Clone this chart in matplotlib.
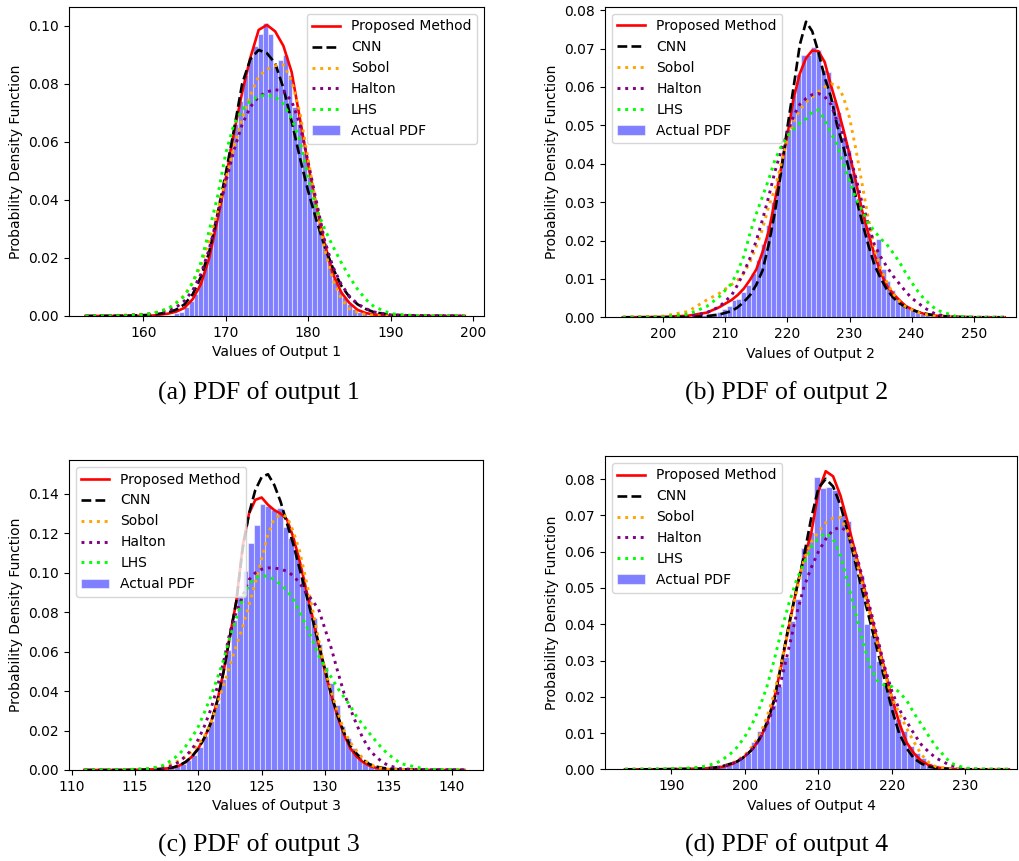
import matplotlib.pyplot as plt
import numpy as np

plt.rcParams['font.size'] = 10

# ---- output 1 ----
x1 = [153, 158, 161, 163, 164, 165, 166, 167, 168, 169, 170, 171, 172, 173, 174,
      175, 176, 177, 178, 179, 180, 181, 182, 183, 184, 185, 186, 187, 188, 190, 193, 199]
prop1 = [0, 0, 0.0001, 0.0008, 0.0015, 0.0028, 0.0058, 0.011, 0.020, 0.033, 0.047, 0.063, 0.077, 0.089, 0.0985,
         0.1002, 0.098, 0.093, 0.084, 0.068, 0.052, 0.038, 0.025, 0.0145, 0.0082, 0.0045, 0.0021, 0.001, 0.0005, 0.0001, 0, 0]
cnn1 = [0, 0.0001, 0.0004, 0.0012, 0.0022, 0.004, 0.0075, 0.0135, 0.022, 0.035, 0.049, 0.064, 0.080, 0.0885, 0.0916,
        0.0905, 0.087, 0.0785, 0.067, 0.0545, 0.043, 0.033, 0.024, 0.0165, 0.0105, 0.0066, 0.004, 0.0024, 0.0013, 0.0004, 0.0001, 0]
sobol1 = [0, 0.0003, 0.0008, 0.0025, 0.0045, 0.0072, 0.0115, 0.0175, 0.026, 0.036, 0.047, 0.058, 0.068, 0.076, 0.0825,
          0.085, 0.0862, 0.0865, 0.081, 0.070, 0.054, 0.038, 0.023, 0.0125, 0.006, 0.0025, 0.0012, 0.0005, 0.0002, 0, 0, 0]
halton1 = [0, 0.0002, 0.0007, 0.0018, 0.003, 0.0052, 0.0088, 0.0145, 0.023, 0.034, 0.046, 0.057, 0.066, 0.072, 0.0755,
           0.0772, 0.0779, 0.0775, 0.074, 0.066, 0.053, 0.0395, 0.026, 0.017, 0.011, 0.0068, 0.0042, 0.0025, 0.0014, 0.0004, 0.0001, 0]
lhs1 = [0, 0.0001, 0.0007, 0.0025, 0.0045, 0.0068, 0.0115, 0.0185, 0.0295, 0.041, 0.056, 0.066, 0.071, 0.074, 0.0757,
        0.0761, 0.0755, 0.073, 0.068, 0.0605, 0.048, 0.037, 0.030, 0.024, 0.0185, 0.0135, 0.0092, 0.0057, 0.0032, 0.0008, 0.0001, 0]
bins1 = (163.7, 0.6)
hist1 = [0.001, 0.0015, 0.003, 0.005, 0.0075, 0.012, 0.019, 0.025, 0.032, 0.040,
         0.048, 0.058, 0.066, 0.074, 0.083, 0.089, 0.093, 0.097, 0.101, 0.097,
         0.086, 0.088, 0.090, 0.083, 0.072, 0.066, 0.056, 0.048, 0.040, 0.032,
         0.025, 0.019, 0.013, 0.009, 0.0065, 0.004, 0.0025, 0.0015, 0.001, 0.0005]

# ---- output 2 ----
x2 = [193.5, 200, 204, 207, 209] + list(range(211, 243)) + [244, 247, 250, 255]
prop2 = [0, 0.0001, 0.0004, 0.0012, 0.0026,
         0.0045, 0.0058, 0.0075, 0.0098, 0.0125, 0.017, 0.0225, 0.0305, 0.039, 0.0475, 0.057, 0.0635, 0.0675, 0.0695, 0.0693, 0.0665,
         0.0605, 0.055, 0.049, 0.0425, 0.0355, 0.028, 0.022, 0.0165, 0.0118, 0.0082, 0.0062, 0.0045, 0.003, 0.0021, 0.0014, 0.0009,
         0.0004, 0.0001, 0, 0]
cnn2 = [0, 0, 0.0001, 0.0003, 0.0007,
        0.0016, 0.0026, 0.004, 0.0058, 0.0085, 0.0122, 0.019, 0.0275, 0.038, 0.0495, 0.060, 0.071, 0.077, 0.0745, 0.069, 0.0625,
        0.0575, 0.050, 0.0445, 0.038, 0.0315, 0.025, 0.019, 0.0137, 0.0102, 0.0073, 0.0052, 0.0037, 0.0027, 0.002, 0.0014, 0.001,
        0.0004, 0.0001, 0, 0]
sobol2 = [0, 0.0003, 0.0015, 0.0045, 0.0062,
          0.0085, 0.0097, 0.0115, 0.0145, 0.0185, 0.023, 0.029, 0.0335, 0.040, 0.0465, 0.051, 0.054, 0.056, 0.0573, 0.0588, 0.060,
          0.0608, 0.0605, 0.0575, 0.052, 0.044, 0.035, 0.026, 0.018, 0.0128, 0.0092, 0.0062, 0.0042, 0.0028, 0.002, 0.0013, 0.0008,
          0.0003, 0.0001, 0, 0]
halton2 = [0, 0, 0.0002, 0.0012, 0.0027,
           0.0057, 0.0085, 0.0118, 0.0155, 0.020, 0.0255, 0.0315, 0.038, 0.0435, 0.048, 0.0525, 0.0555, 0.057, 0.058, 0.0583, 0.0575,
           0.0555, 0.051, 0.0475, 0.0425, 0.0365, 0.030, 0.0245, 0.019, 0.0158, 0.0132, 0.0108, 0.0088, 0.0068, 0.005, 0.0038, 0.0025,
           0.0007, 0.0001, 0, 0]
lhs2 = [0, 0.0001, 0.0008, 0.0028, 0.0053,
        0.0088, 0.012, 0.016, 0.022, 0.027, 0.0315, 0.036, 0.041, 0.0445, 0.0473, 0.049, 0.0505, 0.0517, 0.0535, 0.054, 0.0515,
        0.048, 0.045, 0.040, 0.0355, 0.031, 0.028, 0.0245, 0.0225, 0.0205, 0.019, 0.0168, 0.0145, 0.0117, 0.0091, 0.0068, 0.0048,
        0.0019, 0.0003, 0, 0]
bins2 = (206.2, 0.8)
hist2 = [0.0005, 0.0008, 0.001, 0.0015, 0.0022, 0.003, 0.0045, 0.0048, 0.0065, 0.0085,
         0.0115, 0.015, 0.019, 0.024, 0.030, 0.036, 0.043, 0.049, 0.058, 0.0635,
         0.0683, 0.0683, 0.0703, 0.0696, 0.0644, 0.064, 0.0565, 0.0535, 0.047, 0.0435,
         0.0375, 0.031, 0.027, 0.022, 0.0175, 0.0205, 0.0125, 0.0095, 0.007, 0.005,
         0.0037, 0.0027, 0.0019, 0.0013, 0.0009, 0.0006, 0.0004, 0.0003, 0.0002, 0.0001]

# ---- output 3 ----
x3 = [111, 114, 116] + [117 + 0.5 * i for i in range(37)] + [136, 138, 141]
prop3 = [0, 0, 0.0002,
         0.0005, 0.0008, 0.0012, 0.0022, 0.004, 0.0068, 0.011, 0.0165, 0.024, 0.035, 0.050, 0.068, 0.0855, 0.1135,
         0.130, 0.137, 0.1382, 0.1345, 0.1318, 0.130, 0.127, 0.118, 0.106, 0.092, 0.078, 0.0635, 0.050, 0.038,
         0.027, 0.018, 0.011, 0.0068, 0.004, 0.0022, 0.0011, 0.0006, 0.0003,
         0.0001, 0, 0]
cnn3 = [0, 0, 0.0002,
        0.0005, 0.0008, 0.0013, 0.0023, 0.0041, 0.0068, 0.0108, 0.0165, 0.024, 0.035, 0.050, 0.068, 0.0855, 0.112,
        0.130, 0.142, 0.1485, 0.150, 0.1445, 0.136, 0.125, 0.1145, 0.102, 0.0895, 0.077, 0.064, 0.051, 0.038,
        0.0275, 0.019, 0.0122, 0.0082, 0.0052, 0.003, 0.0018, 0.0011, 0.0007,
        0.0003, 0.0001, 0]
sobol3 = [0, 0.0001, 0.0006,
          0.0015, 0.0022, 0.0033, 0.0048, 0.0068, 0.0095, 0.013, 0.0172, 0.024, 0.0335, 0.043, 0.053, 0.063, 0.0725,
          0.0835, 0.095, 0.107, 0.1195, 0.1275, 0.1295, 0.1285, 0.121, 0.111, 0.0965, 0.082, 0.066, 0.051, 0.0395,
          0.0295, 0.020, 0.014, 0.0095, 0.0058, 0.003, 0.0015, 0.0008, 0.0004,
          0.0001, 0, 0]
halton3 = [0, 0, 0.0002,
           0.0007, 0.0013, 0.0023, 0.0042, 0.007, 0.0105, 0.0155, 0.0225, 0.031, 0.042, 0.055, 0.070, 0.080, 0.088,
           0.0965, 0.100, 0.1018, 0.1025, 0.1025, 0.1018, 0.1008, 0.0985, 0.0948, 0.090, 0.086, 0.0815, 0.0715, 0.0617,
           0.050, 0.039, 0.031, 0.023, 0.016, 0.0105, 0.0068, 0.0042, 0.0022,
           0.0006, 0.0001, 0]
lhs3 = [0, 0.0001, 0.0007,
        0.0017, 0.0033, 0.0055, 0.008, 0.012, 0.0165, 0.022, 0.0295, 0.0375, 0.0465, 0.056, 0.0675, 0.077, 0.0865,
        0.094, 0.0975, 0.0986, 0.0982, 0.0966, 0.094, 0.091, 0.0865, 0.080, 0.0735, 0.066, 0.058, 0.052, 0.047,
        0.0415, 0.037, 0.0325, 0.027, 0.0228, 0.0187, 0.0148, 0.011, 0.0079,
        0.0032, 0.0003, 0]
bins3 = (116.3, 0.45)
hist3 = [0.0003, 0.0005, 0.0008, 0.0012, 0.0018, 0.003, 0.005, 0.0075, 0.0115, 0.017,
         0.025, 0.034, 0.046, 0.061, 0.076, 0.089, 0.101, 0.115, 0.1243, 0.135,
         0.134, 0.1318, 0.1327, 0.123, 0.1175, 0.109, 0.098, 0.089, 0.077, 0.064,
         0.052, 0.044, 0.033, 0.0225, 0.016, 0.011, 0.0075, 0.0048, 0.003, 0.0018,
         0.001, 0.0005]

# ---- output 4 ----
x4 = [183.7, 188, 192, 194] + list(range(196, 227)) + [228, 230, 232, 235.9]
prop4 = [0, 0, 0.0001, 0.0002,
         0.0004, 0.0007, 0.0012, 0.0022, 0.0036, 0.0055, 0.0082, 0.0125, 0.0195, 0.029, 0.0395, 0.0495, 0.058, 0.0648,
         0.0765, 0.0822, 0.0808, 0.0755, 0.068, 0.060, 0.052, 0.0437, 0.0357, 0.0277, 0.0197, 0.0128, 0.0074, 0.0044,
         0.0023, 0.0012, 0.0005,
         0.0001, 0, 0, 0]
cnn4 = [0, 0, 0.0001, 0.0002,
        0.0005, 0.0009, 0.0015, 0.0022, 0.0035, 0.0055, 0.0085, 0.0128, 0.019, 0.0296, 0.040, 0.0494, 0.0585, 0.069,
        0.0775, 0.0801, 0.078, 0.0728, 0.0655, 0.0572, 0.049, 0.041, 0.033, 0.0248, 0.0165, 0.0098, 0.0058, 0.003,
        0.0016, 0.0008, 0.0003,
        0.0001, 0, 0, 0]
sobol4 = [0, 0, 0.0001, 0.0002,
          0.0004, 0.0008, 0.0014, 0.0025, 0.0039, 0.0063, 0.0093, 0.0143, 0.021, 0.0297, 0.0393, 0.0488, 0.0575, 0.0625,
          0.0655, 0.068, 0.0693, 0.0694, 0.0655, 0.0588, 0.051, 0.0428, 0.0348, 0.0267, 0.0197, 0.0155, 0.0113, 0.0075,
          0.0041, 0.0019, 0.0007,
          0.0001, 0, 0, 0]
halton4 = [0, 0, 0.0001, 0.0002,
           0.0004, 0.0007, 0.0013, 0.0022, 0.0036, 0.0056, 0.0083, 0.0122, 0.0175, 0.025, 0.0335, 0.0425, 0.050, 0.0555,
           0.060, 0.0635, 0.066, 0.0668, 0.0655, 0.0605, 0.0528, 0.0447, 0.0366, 0.0283, 0.0215, 0.0165, 0.0132, 0.0098,
           0.0068, 0.0048, 0.0031,
           0.001, 0.0002, 0, 0]
lhs4 = [0, 0.0001, 0.0003, 0.0006,
        0.0016, 0.0027, 0.0042, 0.0062, 0.009, 0.0125, 0.017, 0.0228, 0.0302, 0.0385, 0.0458, 0.052, 0.0567, 0.0612,
        0.0638, 0.0651, 0.0635, 0.059, 0.0515, 0.0435, 0.0355, 0.0285, 0.0245, 0.0232, 0.0228, 0.0213, 0.019, 0.0155,
        0.0124, 0.0092, 0.0062,
        0.0017, 0.0003, 0.0001, 0]
bins4 = (194.9, 0.85)
hist4 = [0.0003, 0.0005, 0.0008, 0.0012, 0.0022, 0.0032, 0.0045, 0.0075, 0.0105, 0.013,
         0.0178, 0.023, 0.031, 0.041, 0.047, 0.061, 0.0655, 0.0805, 0.0775, 0.0778,
         0.077, 0.070, 0.0685, 0.060, 0.0535, 0.040, 0.037, 0.030, 0.024, 0.0195,
         0.014, 0.0105, 0.0065, 0.0045, 0.003, 0.0018, 0.0012, 0.0007, 0.0004, 0.0002]

methods = ['Proposed Method', 'CNN', 'Sobol', 'Halton', 'LHS']
styles = [dict(color='red', ls='-', lw=1.9),
          dict(color='black', ls='--', lw=1.9),
          dict(color='orange', ls=':', lw=2.1),
          dict(color='purple', ls=':', lw=2.1),
          dict(color='lime', ls=':', lw=2.1)]


def draw_panel(ax, x, curves, bins, heights, output_no, xlim, ylim, loc):
    start, width = bins
    edges = start + width * np.arange(len(heights))
    ax.bar(edges, heights, width=width, align='edge', color='blue', alpha=0.5,
           edgecolor='white', linewidth=0.8, label='Actual PDF')
    for name, y, st in zip(methods, curves, styles):
        ax.plot(x, y, label=name, **st)
    ax.set_xlim(*xlim)
    ax.set_ylim(*ylim)
    ax.set_xlabel('Values of Output %d' % output_no)
    ax.set_ylabel('Probability Density Function')
    ax.legend(loc=loc)


fig = plt.figure(figsize=(10.2, 8.61), dpi=100)
ax1 = fig.add_axes([0.0676, 0.6330, 0.4069, 0.3589])
ax2 = fig.add_axes([0.5931, 0.6315, 0.4029, 0.3607])
ax3 = fig.add_axes([0.0676, 0.1057, 0.4059, 0.3600])
ax4 = fig.add_axes([0.5931, 0.1065, 0.4039, 0.3639])

draw_panel(ax1, x1, [prop1, cnn1, sobol1, halton1, lhs1], bins1, hist1, 1,
           (150.99, 201.33), (0, 0.1064), 'upper right')
draw_panel(ax2, x2, [prop2, cnn2, sobol2, halton2, lhs2], bins2, hist2, 2,
           (190.62, 256.8), (0, 0.0809), 'upper left')
draw_panel(ax3, x3, [prop3, cnn3, sobol3, halton3, lhs3], bins3, hist3, 3,
           (109.79, 142.47), (0, 0.1572), 'upper left')
draw_panel(ax4, x4, [prop4, cnn4, sobol4, halton4, lhs4], bins4, hist4, 4,
           (180.98, 237.0), (0, 0.0864), 'upper left')

captions = ['(a) PDF of output 1', '(b) PDF of output 2',
            '(c) PDF of output 3', '(d) PDF of output 4']
for (cx, cy), txt in zip([(259, 393), (787, 393), (259, 845), (787, 845)], captions):
    fig.text(cx / 1020, 1 - cy / 861, txt, ha='center', va='center',
             fontsize=18.5, family='Liberation Serif')

fig.savefig('out.png', dpi=100)
